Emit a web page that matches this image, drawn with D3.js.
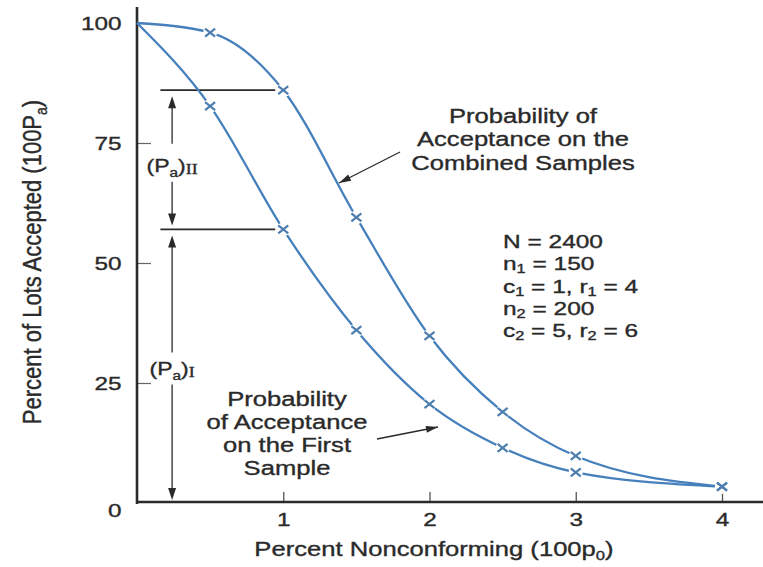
<!DOCTYPE html>
<html>
<head>
<meta charset="utf-8">
<script src="https://cdn.jsdelivr.net/npm/d3@7"></script>
<style>
  body { margin: 0; background: #fff; }
  svg text { font-family: "Liberation Sans", Arial, Helvetica, sans-serif; fill: #2a2a2a;
             stroke: #2a2a2a; stroke-width: 0.35px; }
</style>
</head>
<body>
<svg id="chart" width="763" height="567"></svg>
<script>
// OC curves of a double sampling plan
const pctNonconforming = [0, 0.5, 1, 1.5, 2, 2.5, 3, 4];
const paCombined = [100, 98, 86, 59.5, 34.8, 19, 9.8, 3.4];
const paFirst = [100, 82.7, 57, 36, 20.6, 11.5, 6.4, 3.4];
const xTicks = [1, 2, 3, 4];
const yTicks = [0, 25, 50, 75, 100];
const planLines = [
  [["N = 2400"]],
  [["n"], ["1", "sub"], [" = 150"]],
  [["c"], ["1", "sub"], [" = 1, r"], ["1", "sub"], [" = 4"]],
  [["n"], ["2", "sub"], [" = 200"]],
  [["c"], ["2", "sub"], [" = 5, r"], ["2", "sub"], [" = 6"]]
];
const combinedLabel = ["Probability of", "Acceptance on the", "Combined Samples"];
const firstLabel = ["Probability", "of Acceptance", "on the First", "Sample"];

const W = 763, H = 567;
const SX = 1.28;             // the scan is stretched sideways
const INK = "#2a2a2a", BLUE = "#4680bc", MARK = "#4d7eae";

const svg = d3.select("#chart");
svg.append("rect").attr("width", W).attr("height", H).attr("fill", "#fff");

const x = d3.scaleLinear().domain([0, 4]).range([137, 722]);
const y = d3.scaleLinear().domain([0, 100]).range([503, 23]);

// axes
const gx = svg.append("g").attr("transform", `translate(0,${y(0)})`)
  .call(d3.axisBottom(x).tickValues(xTicks).tickFormat(d3.format("d"))
    .tickSizeInner(-11).tickSizeOuter(0).tickPadding(10));
gx.select(".domain").remove();
gx.selectAll("line").attr("stroke", "#555").attr("stroke-width", 1.3);
gx.selectAll("text").attr("font-size", 19).attr("transform", `scale(${SX},1)`);

const gy = svg.append("g").attr("transform", `translate(${x(0)},0)`)
  .call(d3.axisLeft(y).tickValues(yTicks).tickFormat(d3.format("d"))
    .tickSizeInner(-14).tickSizeOuter(0).tickPadding(12));
gy.select(".domain").remove();
gy.selectAll("line").attr("stroke", "#666").attr("stroke-width", 1.2)
  .filter(d => d === 0).remove();
gy.selectAll("text").attr("font-size", 19).attr("transform", `scale(${SX},1)`)
  .filter(d => d === 0).attr("dy", "0.72em");

svg.append("line").attr("x1", x(0)).attr("x2", x(0)).attr("y1", 7).attr("y2", y(0) + 1)
  .attr("stroke", INK).attr("stroke-width", 2.6);
svg.append("line").attr("x1", x(0) - 1).attr("x2", W).attr("y1", y(0) - 1).attr("y2", y(0) - 1)
  .attr("stroke", INK).attr("stroke-width", 2.6);

// axis titles
svg.append("text")
  .attr("transform", `translate(41,262) rotate(-90) scale(1,1.15)`)
  .attr("text-anchor", "middle").attr("font-size", 22)
  .call(t => {
    t.append("tspan").text("Percent of Lots Accepted (100P");
    t.append("tspan").attr("font-size", 14).attr("dy", 5).text("a");
    t.append("tspan").attr("dy", -5).text(")");
  });

svg.append("text")
  .attr("transform", `translate(434,556) scale(${SX},1)`)
  .attr("text-anchor", "middle").attr("font-size", 20)
  .call(t => {
    t.append("tspan").text("Percent Nonconforming (100p");
    t.append("tspan").attr("font-size", 13).attr("dy", 4).text("0");
    t.append("tspan").attr("dy", -4).text(")");
  });

// reference lines and dimension arrows at 1 percent
const yTop = y(paCombined[2]), yMid = y(paFirst[2]), yBase = y(0);
[yTop, yMid].forEach(v => {
  svg.append("line").attr("x1", x(0.16)).attr("x2", x(1) - 8).attr("y1", v).attr("y2", v)
    .attr("stroke", INK).attr("stroke-width", 1.8);
});

const ax = x(0.24);
function head(tipY, dir) {
  // dir = -1 points up, +1 points down
  svg.append("path")
    .attr("d", `M${ax},${tipY}L${ax - 4},${tipY - dir * 12}L${ax + 4},${tipY - dir * 12}Z`)
    .attr("fill", INK);
}
function shaft(y1, y2) {
  svg.append("line").attr("x1", ax).attr("x2", ax).attr("y1", y1).attr("y2", y2)
    .attr("stroke", INK).attr("stroke-width", 1.3);
}
function paLabel(cy, numeral) {
  svg.append("text").attr("transform", `translate(${ax},${cy + 6}) scale(${SX},1)`)
    .attr("text-anchor", "middle").attr("font-size", 18)
    .call(t => {
      t.append("tspan").text("(P");
      t.append("tspan").attr("font-size", 12).attr("dy", 5).text("a");
      t.append("tspan").attr("dy", -5).text(")");
      t.append("tspan").attr("font-family", "Liberation Serif, serif").attr("font-size", 14)
        .attr("dy", 2).text(numeral);
    });
}
const c2 = (yTop + yMid) / 2 + 6;
head(yTop + 6, -1); shaft(yTop + 10, c2 - 22);
shaft(c2 + 16, yMid - 8); head(yMid - 4, 1);
paLabel(c2, "II");

const c1 = y(28);
head(yMid + 6, -1); shaft(yMid + 10, c1 - 16);
shaft(c1 + 16, yBase - 8); head(yBase - 3, 1);
paLabel(c1, "I");

// curves
const line = d3.line().x((d, i) => x(pctNonconforming[i])).y(d => y(d)).curve(d3.curveMonotoneX);
[paCombined, paFirst].forEach(s => {
  svg.append("path").attr("d", line(s)).attr("fill", "none")
    .attr("stroke", BLUE).attr("stroke-width", 2.3);
});

// markers with small gaps in the curve around them
const marks = [];
[paCombined, paFirst].forEach(s => s.forEach((v, i) => { if (i > 0) marks.push([pctNonconforming[i], v]); }));
svg.append("g").selectAll("circle").data(marks).join("circle")
  .attr("cx", d => x(d[0])).attr("cy", d => y(d[1])).attr("r", 7).attr("fill", "#fff");
svg.append("g").selectAll("path").data(marks).join("path")
  .attr("transform", d => `translate(${x(d[0])},${y(d[1])})`)
  .attr("d", "M-5,-4L5,4M-5,4L5,-4")
  .attr("stroke", MARK).attr("stroke-width", 2.2).attr("fill", "none");

// annotations
function block(tx, ty, lines, gap) {
  svg.append("g").attr("transform", `translate(${tx},${ty}) scale(${SX},1)`)
    .selectAll("text").data(lines).join("text")
    .attr("y", (d, i) => i * gap).attr("text-anchor", "middle").attr("font-size", 20)
    .text(d => d);
}
block(523, 123, combinedLabel, 23.5);
block(287, 406, firstLabel, 23);

function pointer(x1, y1, x2, y2) {
  const a = Math.atan2(y2 - y1, x2 - x1);
  svg.append("line").attr("x1", x1).attr("y1", y1).attr("x2", x2).attr("y2", y2)
    .attr("stroke", INK).attr("stroke-width", 1.3);
  const L = 12, w = 3.5;
  const bx = x2 - L * Math.cos(a), by = y2 - L * Math.sin(a);
  svg.append("path")
    .attr("d", `M${x2},${y2}L${bx - w * Math.sin(a)},${by + w * Math.cos(a)}L${bx + w * Math.sin(a)},${by - w * Math.cos(a)}Z`)
    .attr("fill", INK);
}
pointer(400, 152, 339, 183);
pointer(377, 439, 438, 427);

// plan parameters
const gp = svg.append("g").attr("transform", `translate(503,248) scale(1.36,1)`);
gp.selectAll("text").data(planLines).join("text")
  .attr("y", (d, i) => i * 22.3).attr("font-size", 18)
  .each(function (segs) {
    const t = d3.select(this);
    let low = false;
    segs.forEach(([s, k]) => {
      const sub = k === "sub";
      const ts = t.append("tspan").text(s);
      if (sub) ts.attr("font-size", 12).attr("dy", low ? 0 : 3);
      else if (low) ts.attr("dy", -3);
      low = sub;
    });
  });
</script>
</body>
</html>
